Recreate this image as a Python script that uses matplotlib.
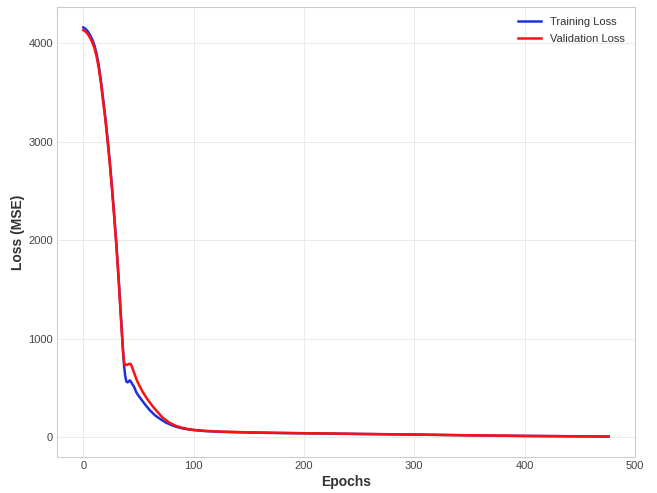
import matplotlib
matplotlib.use("Agg")
import matplotlib.pyplot as plt

train_epochs = [0, 2, 4, 6, 8, 10, 12, 14, 16, 18, 20, 22, 24, 26, 28, 30, 32, 34, 36, 37, 38, 39, 40, 41, 42, 43, 44, 46, 48, 50, 53, 56, 60, 65, 70, 75, 80, 85, 90, 95, 100, 110, 125, 150, 175, 200, 225, 250, 275, 300, 325, 350, 375, 400, 425, 450, 476]
train_loss = [4162, 4148, 4123, 4088, 4043, 3983, 3898, 3778, 3618, 3430, 3250, 3030, 2800, 2540, 2260, 1960, 1620, 1250, 880, 720, 620, 565, 555, 560, 575, 565, 545, 510, 455, 420, 375, 330, 275, 220, 180, 145, 120, 100, 87, 77, 70, 60, 52, 45, 40, 37, 34, 30, 27, 24, 20, 16, 13, 10, 8, 6, 4]

val_epochs = [0, 2, 4, 6, 8, 10, 12, 14, 16, 18, 20, 22, 24, 26, 28, 30, 32, 34, 36, 37, 38, 40, 42, 43, 44, 46, 48, 50, 54, 58, 63, 68, 72, 78, 84, 90, 95, 100, 110, 125, 150, 175, 200, 225, 250, 275, 300, 325, 350, 375, 400, 425, 450, 476]
val_loss = [4135, 4120, 4095, 4060, 4015, 3955, 3870, 3750, 3595, 3410, 3225, 3010, 2780, 2520, 2240, 1940, 1600, 1230, 870, 760, 730, 735, 745, 740, 715, 655, 590, 540, 455, 385, 310, 245, 195, 145, 112, 92, 80, 72, 62, 54, 47, 42, 38, 35, 31, 28, 25, 21, 17, 14, 11, 9, 7, 5]

plt.rcParams['font.family'] = ['Liberation Sans', 'DejaVu Sans']

fig = plt.figure(figsize=(6.57, 4.93), dpi=100)
ax = fig.add_axes([0.0868, 0.073, 0.8797, 0.9128])

ax.plot(train_epochs, train_loss, color='#1f2fe0', linewidth=1.8, label='Training Loss')
ax.plot(val_epochs, val_loss, color='#ff1010', linewidth=1.8, label='Validation Loss')

ax.set_xticks([0, 100, 200, 300, 400, 500])
ax.set_yticks([0, 1000, 2000, 3000, 4000])
ax.grid(True, color='#ebebeb', linewidth=0.7)
ax.set_axisbelow(True)
for s in ax.spines.values():
    s.set_color('#cccccc')
    s.set_linewidth(0.8)
ax.tick_params(axis='both', length=0, labelsize=8, colors='#444444', pad=3)
ax.set_xlabel('Epochs', fontsize=10, fontweight='bold', color='#333333', labelpad=3)
ax.set_ylabel('Loss (MSE)', fontsize=10, fontweight='bold', color='#333333', labelpad=2)

leg = ax.legend(loc='upper right', frameon=False, fontsize=8, handlelength=2.1,
                labelspacing=0.6)
for t in leg.get_texts():
    t.set_color('#333333')

fig.savefig('out.png', dpi=100)
